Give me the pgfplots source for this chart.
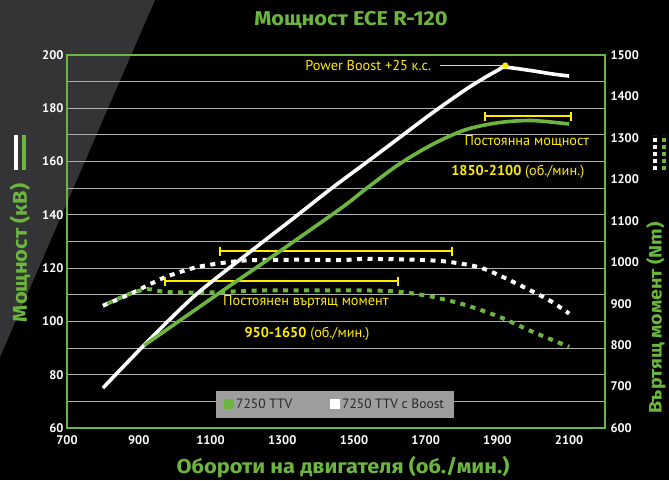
\documentclass[border=0pt]{standalone}
\usepackage{pgfplots}
\pgfplotsset{compat=1.18}
\usepackage{fontspec}
\setmainfont{PT Sans}
\newfontfamily\titlefont{Fira Sans}[FakeStretch=1.09]
\definecolor{tgreen}{RGB}{108,182,63}
\definecolor{tyellow}{RGB}{255,236,0}
\definecolor{gridgrey}{RGB}{175,175,175}
\definecolor{bggrey}{RGB}{52,52,54}
\definecolor{leggrey}{RGB}{158,158,158}
\definecolor{legtext}{RGB}{40,40,40}
\begin{document}
\begin{tikzpicture}[x=1pt,y=1pt]
\fill[black] (0,0) rectangle (669,480);
\fill[bggrey] (0,480) -- (155,480) -- (0,123) -- cycle;

% base axis: kW with grid and frame
\begin{axis}[
  at={(67pt,52pt)}, anchor=south west,
  scale only axis, width=538pt, height=373pt,
  xmin=700, xmax=2200, ymin=60, ymax=200,
  xtick={700,900,...,2100}, ytick={60,80,...,200}, minor ytick={70,90,...,190},
  ymajorgrids, yminorgrids,
  major grid style={draw=gridgrey, line width=1.1pt},
  minor grid style={draw=gridgrey, line width=1.1pt},
  axis line style={draw=tgreen, line width=1.6pt},
  tick style={draw=none},
  ticklabel style={font=\bfseries\fontsize{12.5}{12.5}\selectfont, text=white},
  xticklabel style={yshift=-4pt},
  /pgf/number format/assume math mode=true,
  /pgf/number format/1000 sep={},
]
\end{axis}

% torque axis (Nm)
\begin{axis}[
  at={(67pt,52pt)}, anchor=south west,
  scale only axis, width=538pt, height=373pt,
  xmin=700, xmax=2200, ymin=600, ymax=1500,
  axis x line=none, axis y line*=right,
  ytick={600,700,...,1500},
  axis line style={draw=tgreen, line width=1.6pt},
  tick style={draw=none},
  ticklabel style={font=\bfseries\fontsize{12.5}{12.5}\selectfont, text=white},
  yticklabel style={xshift=2pt},
  /pgf/number format/assume math mode=true,
  /pgf/number format/1000 sep={},
  clip=false,
]
\addplot[white, line width=4pt, dash pattern=on 5pt off 5.5pt, smooth, tension=0.5] coordinates {
(800,895) (870,921) (920,942) (960,959) (1000,972) (1072,990) (1194,1004) (1334,1006) (1464,1005) (1530,1008) (1670,1006) (1763,1001) (1856,986) (1950,950) (2043,909) (2100,876)};
\addplot[tgreen, line width=4pt, dash pattern=on 5pt off 5.5pt, dash phase=5.25pt, smooth, tension=0.5] coordinates {
(800,895) (867,921) (923,935) (979,928) (1100,927) (1240,932) (1427,932) (1530,932) (1623,929) (1716,917) (1810,897) (1903,869) (1996,833) (2100,796)};
\addplot[tyellow, line width=2pt, mark=|, mark size=4.5pt, mark options={solid, line width=2pt}] coordinates {(1126,1026) (1774,1026)};
\addplot[tyellow, line width=2pt, mark=|, mark size=4.5pt, mark options={solid, line width=2pt}] coordinates {(974,954) (1623,954)};
\end{axis}

% power axis (kW), hidden
\begin{axis}[
  at={(67pt,52pt)}, anchor=south west,
  scale only axis, width=538pt, height=373pt,
  xmin=700, xmax=2200, ymin=60, ymax=200,
  hide axis, clip=false,
  legend style={at={(0.277,0.027)}, anchor=south west, fill=leggrey, draw=none,
    font=\fontsize{13.5}{15}\selectfont, text=legtext, inner xsep=8pt, inner ysep=6pt},
  legend columns=2,
  legend cell align=left,
  /tikz/every even column/.append style={column sep=36pt},
  legend image code/.code={\fill[#1] (0pt,-5pt) rectangle (10pt,5pt);},
]
\addplot[white, line width=3.6pt, smooth, tension=0.5, forget plot] coordinates {
(800,75) (918,91.5) (1054,109.4) (1194,124.4) (1334,139.0) (1436,149.8) (1530,159.2) (1623,168.6) (1716,178.0) (1810,186.9) (1866,191.6) (1903,194.4) (1922,195.4) (1996,194.1) (2052,192.9) (2100,192.1)};
\addplot[tgreen, line width=3.6pt, smooth, tension=0.5, forget plot] coordinates {
(915,91) (1138,111.9) (1259,123.1) (1464,142.5) (1530,149.4) (1623,158.75) (1716,166.25) (1810,171.9) (1903,174.6) (1996,175.4) (2100,174.1)};
\addplot[tyellow, line width=2pt, mark=|, mark size=4.5pt, mark options={solid, line width=2pt}, forget plot] coordinates {(1866,177.1) (2106,177.1)};
\addplot[tyellow, line width=1.6pt, forget plot] coordinates {(1740,196) (1922,196)};
\addplot[tyellow, only marks, mark=*, mark size=3pt, forget plot] coordinates {(1922,196)};
\addlegendimage{fill=tgreen, draw=none}
\addlegendentry{7250 TTV}
\addlegendimage{fill=white, draw=none}
\addlegendentry{7250 TTV с Boost}
\node[font=\fontsize{14.3}{14.3}\selectfont, text=tyellow, anchor=east] at (axis cs:1725,196) {Power Boost +25 к.с.};
\node[font=\fontsize{14.3}{14.3}\selectfont, text=tyellow] at (axis cs:1982,167.7) {Постоянна мощност};
\node[font=\fontsize{14.3}{14.3}\selectfont, text=tyellow] at (axis cs:1957,156.1) {\textbf{1850-2100} (об./мин.)};
\node[font=\fontsize{14.3}{14.3}\selectfont, text=tyellow] at (axis cs:1366,107.3) {Постоянен въртящ момент};
\node[font=\fontsize{14.3}{14.3}\selectfont, text=tyellow] at (axis cs:1369,95.3) {\textbf{950-1650} (об./мин.)};
\end{axis}

% outer labels
\node[font=\titlefont\bfseries\fontsize{20}{20}\selectfont, text=tgreen] at (351,460) {Мощност ECE R-120};
\node[font=\titlefont\bfseries\fontsize{20}{20}\selectfont, text=tgreen] at (343,13) {Обороти на двигателя (об./мин.)};
\node[rotate=90, font=\titlefont\bfseries\fontsize{20}{20}\selectfont, text=tgreen] at (20,227) {Мощност (кВ)};
\node[rotate=90, font=\titlefont\bfseries\fontsize{18}{18}\selectfont, text=tgreen] at (656,162) {Въртящ момент (Nm)};
\draw[white, line width=4pt] (16,310) -- (16,345);
\draw[tgreen, line width=4pt] (24,310) -- (24,345);
\draw[white, line width=4pt, dash pattern=on 4pt off 3pt] (655,310) -- (655,345);
\draw[tgreen, line width=4pt, dash pattern=on 4pt off 3pt] (664,310) -- (664,345);
\pgfresetboundingbox
\path[use as bounding box] (0,0) rectangle (669,480);
\end{tikzpicture}
\end{document}
